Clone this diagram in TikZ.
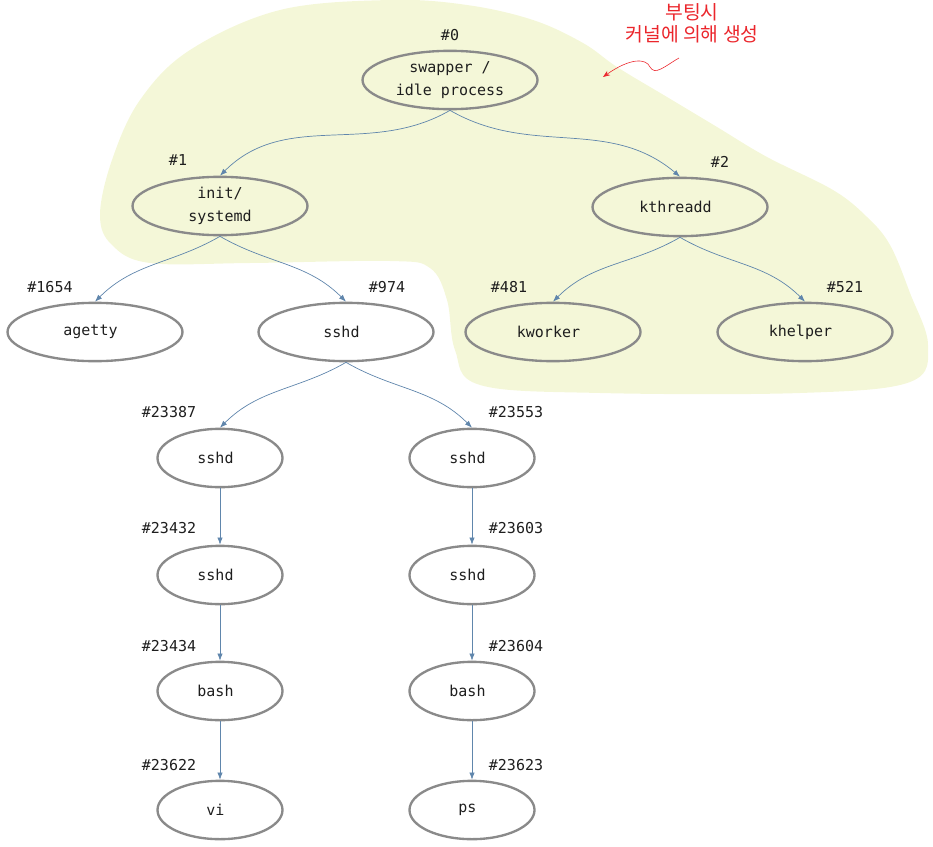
\documentclass[tikz,border=0pt]{standalone}
\usepackage{fontspec}
\setmonofont{DejaVu Sans Mono}
\newfontfamily\kofont{Noto Sans CJK KR}
\usetikzlibrary{shapes.geometric,arrows.meta}
\definecolor{blob}{RGB}{244,247,216}
\definecolor{rim}{RGB}{138,138,138}
\definecolor{linkblue}{RGB}{96,134,172}
\definecolor{note}{RGB}{235,38,44}
\definecolor{ink}{RGB}{30,30,30}
\begin{document}
\begin{tikzpicture}[x=0.03cm, y=0.03cm,
	proc/.style = { draw=rim, ellipse, line width=2pt, minimum width=5.25cm, minimum height=1.75cm, inner sep=0pt, align=center, text=ink, font=\ttfamily\fontsize{12.8}{19.5}\selectfont },
	small/.style = { proc, minimum width=3.75cm },
	pid/.style = { text=ink, font=\ttfamily\fontsize{12.8}{15}\selectfont },
	spawn/.style = { draw=linkblue, line width=0.6pt, -{Latex[length=6pt, width=4.5pt]} }]
	\useasboundingbox (0,0) rectangle (933,-846);
	% kernel area
	\fill [blob] plot [smooth cycle, tension=0.6] coordinates {
		(100,-215) (112,-160) (140,-100) (190,-50) (280,-10) (390,0) (467,-5) (533,-20)
		(583,-43) (617,-67) (667,-97) (717,-127) (767,-157) (833,-190) (867,-217)
		(890,-245) (910,-293) (928,-345) (910,-382) (800,-393) (600,-393) (480,-385)
		(455,-350) (447,-300) (430,-268) (390,-261) (250,-263) (150,-263) (112,-245) };
	% processes
	\node [proc] (swapper) at (450,-80) { swapper /\\idle process };
	\node [proc] (init) at (220,-206) { init/\\systemd };
	\node [proc] (kthreadd) at (680,-207) { kthreadd };
	\node [proc] (agetty) at (95,-332) { agetty };
	\node [proc] (sshd) at (346,-332) { sshd };
	\node [proc] (kworker) at (553,-332) { kworker };
	\node [proc] (khelper) at (805,-332) { khelper };
	\node [small] (sshdA) at (220,-458) { sshd };
	\node [small] (sshdB) at (472,-458) { sshd };
	\node [small] (sshdC) at (220,-575) { sshd };
	\node [small] (sshdD) at (472,-575) { sshd };
	\node [small] (bashA) at (220,-691) { bash };
	\node [small] (bashB) at (472,-691) { bash };
	\node [small] (vi) at (220,-810) { vi };
	\node [small] (ps) at (472,-810) { ps };
	% pids
	\node [pid] (pid0) at (450,-35) { \#0 };
	\node [pid] (pid1) at (178,-160) { \#1 };
	\node [pid] (pid2) at (720,-162) { \#2 };
	\node [pid] (pid1654) at (50,-287) { \#1654 };
	\node [pid] (pid974) at (387,-287) { \#974 };
	\node [pid] (pid481) at (509,-287) { \#481 };
	\node [pid] (pid521) at (845,-287) { \#521 };
	\node [pid] (pid23387) at (169,-412) { \#23387 };
	\node [pid] (pid23553) at (516,-412) { \#23553 };
	\node [pid] (pid23432) at (169,-528) { \#23432 };
	\node [pid] (pid23603) at (516,-528) { \#23603 };
	\node [pid] (pid23434) at (169,-646) { \#23434 };
	\node [pid] (pid23604) at (516,-646) { \#23604 };
	\node [pid] (pid23622) at (169,-765) { \#23622 };
	\node [pid] (pid23623) at (516,-765) { \#23623 };
	% forks
	\draw [spawn] (swapper.south) to [out=-150, in=45] (init.north);
	\draw [spawn] (swapper.south) to [out=-30, in=140] (kthreadd.north);
	\draw [spawn] (init.south) to [out=-150, in=45] (agetty.north);
	\draw [spawn] (init.south) to [out=-30, in=135] (sshd.north);
	\draw [spawn] (kthreadd.south) to [out=-150, in=45] (kworker.north);
	\draw [spawn] (kthreadd.south) to [out=-30, in=135] (khelper.north);
	\draw [spawn] (sshd.south) to [out=-150, in=45] (sshdA.north);
	\draw [spawn] (sshd.south) to [out=-30, in=135] (sshdB.north);
	\draw [spawn] (sshdA) -- (sshdC);
	\draw [spawn] (sshdC) -- (bashA);
	\draw [spawn] (bashA) -- (vi);
	\draw [spawn] (sshdB) -- (sshdD);
	\draw [spawn] (sshdD) -- (bashB);
	\draw [spawn] (bashB) -- (ps);
	% note
	\node [text=note, align=center, font=\kofont\fontsize{16.5}{18.5}\selectfont] (boot) at (692,-23) { 부팅시\\커널에 의해 생성 };
	\coordinate (noteTail) at (679,-58);
	\coordinate (noteTip) at (603,-77);
	\draw [note, line width=0.5pt, -{Stealth[length=6pt, width=4.5pt]}] (noteTail) .. controls (665,-66) and (655,-76) .. (650,-67) .. controls (646,-58) and (630,-58) .. (noteTip);
\end{tikzpicture}
\end{document}
